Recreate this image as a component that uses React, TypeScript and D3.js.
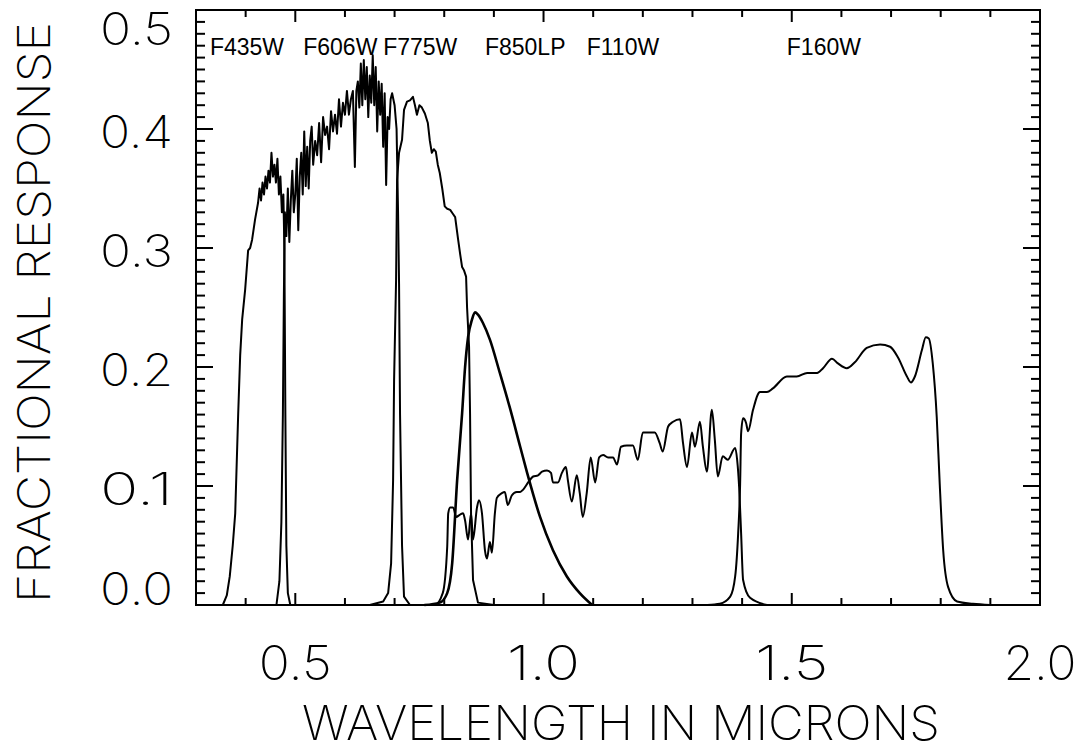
import React, { useEffect, useRef } from "react";
import * as d3 from "d3";

// filter throughput curves, [wavelength (microns), fractional response]
const f435w = [
  [0.354, 0], [0.362, 0.008], [0.368, 0.024], [0.374, 0.05], [0.379, 0.077], [0.385, 0.161],
  [0.389, 0.21], [0.393, 0.24], [0.399, 0.265], [0.405, 0.298], [0.409, 0.3], [0.413, 0.307],
  [0.419, 0.324], [0.425, 0.338], [0.428, 0.35], [0.431, 0.34], [0.434, 0.355], [0.437, 0.345],
  [0.44, 0.36], [0.443, 0.35], [0.446, 0.365], [0.449, 0.355], [0.452, 0.38], [0.455, 0.36],
  [0.458, 0.37], [0.461, 0.355], [0.464, 0.375], [0.467, 0.345], [0.47, 0.36], [0.473, 0.33],
  [0.476, 0.345], [0.478, 0.3], [0.48, 0.16], [0.482, 0.05], [0.485, 0.01], [0.49, 0],
];

const f606w = [
  [0.462, 0], [0.468, 0.02], [0.472, 0.07], [0.475, 0.16], [0.477, 0.26], [0.479, 0.33],
  [0.482, 0.31], [0.485, 0.35], [0.488, 0.305], [0.491, 0.34], [0.494, 0.365], [0.497, 0.33],
  [0.5, 0.345], [0.503, 0.375], [0.506, 0.315], [0.509, 0.36], [0.512, 0.38], [0.515, 0.345],
  [0.518, 0.398], [0.521, 0.352], [0.524, 0.385], [0.527, 0.35], [0.53, 0.39], [0.533, 0.402],
  [0.536, 0.37], [0.54, 0.39], [0.544, 0.378], [0.548, 0.405], [0.552, 0.372], [0.556, 0.41],
  [0.56, 0.395], [0.564, 0.402], [0.568, 0.383], [0.572, 0.415], [0.576, 0.398], [0.58, 0.412],
  [0.584, 0.396], [0.588, 0.425], [0.592, 0.402], [0.596, 0.422], [0.6, 0.412], [0.604, 0.432],
  [0.608, 0.412], [0.612, 0.425], [0.616, 0.432], [0.62, 0.368], [0.623, 0.432], [0.626, 0.44],
  [0.629, 0.418], [0.632, 0.455], [0.635, 0.42], [0.638, 0.458], [0.641, 0.425], [0.644, 0.452],
  [0.647, 0.41], [0.65, 0.445], [0.653, 0.422], [0.656, 0.462], [0.659, 0.42], [0.662, 0.452],
  [0.665, 0.398], [0.668, 0.44], [0.671, 0.412], [0.674, 0.438], [0.677, 0.385], [0.68, 0.43],
  [0.683, 0.353], [0.686, 0.41], [0.689, 0.4], [0.692, 0.425], [0.695, 0.43], [0.7, 0.42],
  [0.704, 0.4], [0.707, 0.33], [0.709, 0.27], [0.711, 0.16], [0.715, 0.05], [0.719, 0.007],
  [0.731, 0],
];

const f775w = [
  [0.65, 0], [0.677, 0.003], [0.687, 0.01], [0.693, 0.035], [0.697, 0.105], [0.699, 0.189],
  [0.703, 0.273], [0.705, 0.357], [0.709, 0.38], [0.715, 0.391], [0.719, 0.416], [0.725, 0.423],
  [0.731, 0.424], [0.737, 0.427], [0.741, 0.42], [0.745, 0.412], [0.75, 0.42], [0.755, 0.418],
  [0.761, 0.413], [0.767, 0.405], [0.771, 0.39], [0.775, 0.38], [0.779, 0.383], [0.783, 0.381],
  [0.787, 0.37], [0.791, 0.363], [0.796, 0.35], [0.801, 0.335], [0.806, 0.333], [0.812, 0.332],
  [0.817, 0.329], [0.822, 0.326], [0.828, 0.307], [0.832, 0.295], [0.836, 0.284], [0.84, 0.281],
  [0.844, 0.276], [0.846, 0.25], [0.85, 0.217], [0.852, 0.161], [0.854, 0.077], [0.858, 0.021],
  [0.868, 0.002], [0.9, 0],
];

const f850lp = [
  [0.76, 0], [0.791, 0.002], [0.806, 0.01], [0.816, 0.035], [0.826, 0.105], [0.836, 0.161],
  [0.842, 0.2], [0.848, 0.225], [0.856, 0.24], [0.862, 0.246], [0.868, 0.244], [0.878, 0.237],
  [0.892, 0.223], [0.912, 0.195], [0.932, 0.166], [0.953, 0.133], [0.967, 0.111], [0.993, 0.074],
  [1.019, 0.046], [1.047, 0.024], [1.073, 0.01], [1.098, 0],
];

const f110w = [
  [0.76, 0], [0.781, 0], [0.797, 0.01], [0.806, 0.049], [0.808, 0.077], [0.812, 0.082],
  [0.818, 0.082], [0.824, 0.074], [0.832, 0.076], [0.838, 0.077], [0.842, 0.071], [0.848, 0.055],
  [0.854, 0.077], [0.858, 0.055], [0.866, 0.082], [0.87, 0.088], [0.876, 0.077], [0.882, 0.046],
  [0.886, 0.039], [0.892, 0.053], [0.896, 0.044], [0.902, 0.077], [0.906, 0.09], [0.916, 0.094],
  [0.922, 0.095], [0.928, 0.084], [0.936, 0.092], [0.946, 0.095], [0.953, 0.095], [0.959, 0.097],
  [0.969, 0.103], [0.979, 0.108], [0.989, 0.109], [0.997, 0.112], [1.007, 0.113], [1.015, 0.111],
  [1.019, 0.103], [1.029, 0.103], [1.037, 0.111], [1.045, 0.116], [1.049, 0.105], [1.057, 0.087],
  [1.067, 0.109], [1.073, 0.094], [1.079, 0.074], [1.087, 0.094], [1.095, 0.124], [1.104, 0.103],
  [1.112, 0.124], [1.12, 0.126], [1.13, 0.124], [1.14, 0.124], [1.148, 0.118], [1.156, 0.133],
  [1.168, 0.134], [1.18, 0.134], [1.19, 0.122], [1.2, 0.145], [1.214, 0.145], [1.224, 0.145],
  [1.234, 0.136], [1.24, 0.129], [1.251, 0.15], [1.261, 0.154], [1.275, 0.156], [1.281, 0.136],
  [1.289, 0.116], [1.299, 0.145], [1.305, 0.133], [1.315, 0.154], [1.321, 0.133], [1.329, 0.112],
  [1.339, 0.164], [1.345, 0.139], [1.351, 0.108], [1.361, 0.125], [1.371, 0.122], [1.386, 0.132],
  [1.39, 0.122], [1.394, 0.099], [1.398, 0.06], [1.402, 0.021], [1.416, 0.006], [1.45, 0],
];

const f160w = [
  [1.33, 0], [1.355, 0.001], [1.376, 0.007], [1.386, 0.024], [1.392, 0.06], [1.396, 0.102],
  [1.398, 0.144], [1.402, 0.157], [1.408, 0.153], [1.412, 0.146], [1.422, 0.164], [1.436, 0.179],
  [1.45, 0.179], [1.462, 0.182], [1.49, 0.192], [1.51, 0.192], [1.531, 0.195], [1.551, 0.195],
  [1.563, 0.199], [1.581, 0.207], [1.593, 0.203], [1.611, 0.199], [1.627, 0.204], [1.651, 0.216],
  [1.678, 0.219], [1.698, 0.217], [1.714, 0.208], [1.732, 0.192], [1.74, 0.187], [1.748, 0.192],
  [1.762, 0.214], [1.77, 0.225], [1.776, 0.224], [1.784, 0.203], [1.792, 0.158], [1.798, 0.102],
  [1.805, 0.046], [1.815, 0.015], [1.833, 0.003], [1.865, 0.001], [1.9, 0],
];

// filter names written across the top, anchored at a wavelength
const filterNames = ["F435W", "F606W", "F775W", "F850LP", "F110W", "F160W"];
const filterLabelX = [0.328, 0.516, 0.677, 0.882, 1.087, 1.49];

const xTicks = [0.5, 1.0, 1.5, 2.0];
const yTicks = [0.0, 0.1, 0.2, 0.3, 0.4, 0.5];

const App = () => {
  const svgRef = useRef(null);

  useEffect(() => {
    const width = 1086;
    const height = 752;
    const left = 196;
    const right = 1040;
    const top = 10;
    const bottom = 605;

    const svg = d3.select(svgRef.current);
    svg.selectAll("*").remove();
    svg.attr("width", width).attr("height", height);

    const x = d3.scaleLinear().domain([0.3, 2.0]).range([left, right]);
    const y = d3.scaleLinear().domain([0, 0.5]).range([bottom, top]);

    const labelFont = "Inter, 'DejaVu Sans', sans-serif";
    const labelWeight = 200;

    // curves
    const noisy = d3.line().x((d) => x(d[0])).y((d) => y(d[1]));
    const smooth = d3.line().x((d) => x(d[0])).y((d) => y(d[1])).curve(d3.curveMonotoneX);
    const curves = [
      [f435w, noisy, 2],
      [f606w, noisy, 2],
      [f775w, noisy, 2],
      [f850lp, smooth, 2.6],
      [f110w, smooth, 2],
      [f160w, smooth, 2],
    ];
    curves.forEach(([data, gen, sw]) => {
      svg
        .append("path")
        .attr("d", gen(data))
        .attr("fill", "none")
        .attr("stroke", "#000")
        .attr("stroke-width", sw)
        .attr("stroke-linejoin", "round");
    });

    // box
    svg
      .append("rect")
      .attr("x", left)
      .attr("y", top)
      .attr("width", right - left)
      .attr("height", bottom - top)
      .attr("fill", "none")
      .attr("stroke", "#000")
      .attr("stroke-width", 2);

    // x ticks, bottom and top
    const xMinor = d3.range(3, 21).map((v) => v / 10);
    xMinor.forEach((v) => {
      const major = xTicks.some((t) => Math.abs(t - v) < 1e-6);
      const len = major ? 12 : 7;
      svg.append("line").attr("x1", x(v)).attr("x2", x(v)).attr("y1", bottom).attr("y2", bottom - len)
        .attr("stroke", "#000").attr("stroke-width", 2);
      svg.append("line").attr("x1", x(v)).attr("x2", x(v)).attr("y1", top).attr("y2", top + len)
        .attr("stroke", "#000").attr("stroke-width", 2);
    });

    // y ticks, left and right
    const yMinor = d3.range(0, 51).map((v) => v / 100);
    yMinor.forEach((v, i) => {
      const len = i % 10 === 0 ? 17 : 9;
      svg.append("line").attr("x1", left).attr("x2", left + len).attr("y1", y(v)).attr("y2", y(v))
        .attr("stroke", "#000").attr("stroke-width", 2);
      svg.append("line").attr("x1", right).attr("x2", right - len).attr("y1", y(v)).attr("y2", y(v))
        .attr("stroke", "#000").attr("stroke-width", 2);
    });

    // tick labels
    svg
      .selectAll("text.xtick")
      .data(xTicks)
      .enter()
      .append("text")
      .attr("class", "xtick")
      .attr("x", (d) => x(d))
      .attr("y", 680)
      .attr("text-anchor", "middle")
      .attr("font-family", labelFont)
      .attr("font-weight", labelWeight)
      .attr("font-size", 48)
      .attr("textLength", 73)
      .attr("lengthAdjust", "spacingAndGlyphs")
      .text((d) => d.toFixed(1));

    svg
      .selectAll("text.ytick")
      .data(yTicks)
      .enter()
      .append("text")
      .attr("class", "ytick")
      .attr("x", 173)
      .attr("y", (d) => Math.max(45, Math.min(bottom, y(d) + 19)))
      .attr("text-anchor", "end")
      .attr("font-family", labelFont)
      .attr("font-weight", labelWeight)
      .attr("font-size", 45)
      .attr("textLength", 73)
      .attr("lengthAdjust", "spacingAndGlyphs")
      .text((d) => d.toFixed(1));

    // axis titles
    svg
      .append("text")
      .attr("x", (left + right) / 2 + 3)
      .attr("y", 740)
      .attr("text-anchor", "middle")
      .attr("font-family", labelFont)
      .attr("font-weight", labelWeight)
      .attr("font-size", 48)
      .attr("textLength", 638)
      .attr("lengthAdjust", "spacingAndGlyphs")
      .text("WAVELENGTH IN MICRONS");

    svg
      .append("text")
      .attr("transform", `translate(50, ${(top + bottom) / 2 + 5}) rotate(-90)`)
      .attr("text-anchor", "middle")
      .attr("font-family", labelFont)
      .attr("font-weight", labelWeight)
      .attr("font-size", 45)
      .attr("textLength", 581)
      .attr("lengthAdjust", "spacingAndGlyphs")
      .text("FRACTIONAL RESPONSE");

    // filter names
    svg
      .selectAll("text.filter")
      .data(filterNames)
      .enter()
      .append("text")
      .attr("class", "filter")
      .attr("x", (d, i) => x(filterLabelX[i]))
      .attr("y", y(0.462))
      .attr("font-family", "'Liberation Sans', Arial, sans-serif")
      .attr("font-size", 23)
      .text((d) => d);
  }, []);

  return <svg ref={svgRef} style={{ position: "absolute", left: 0, top: 0, background: "#fff" }}></svg>;
};

export default App;
